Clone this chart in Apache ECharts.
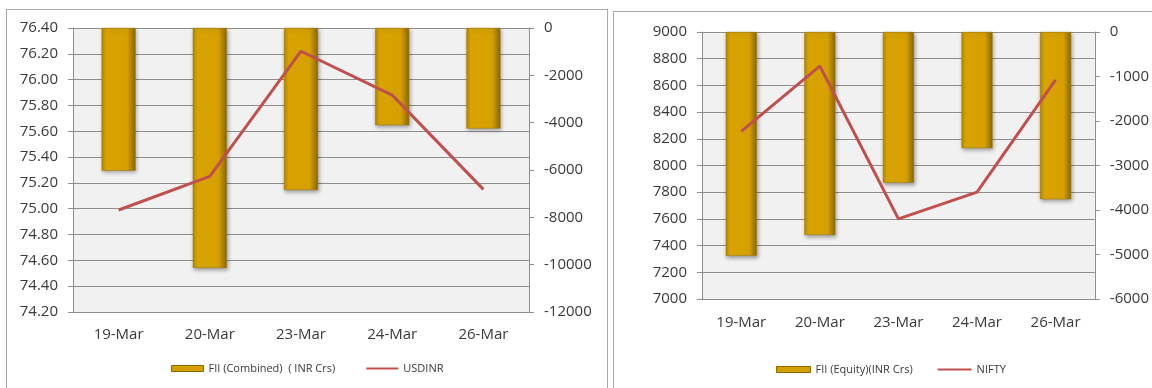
<!DOCTYPE html>
<html>
<head>
<meta charset="utf-8">
<script src="https://cdn.jsdelivr.net/npm/echarts@6/dist/echarts.min.js"></script>
<style>
html,body{margin:0;padding:0;background:#fff;}
#wrap{position:relative;width:1152px;height:388px;overflow:hidden;}
#chart{position:absolute;left:0;top:0;width:1152px;height:388px;}
.panel{position:absolute;border:1.5px solid #a8a8a8;pointer-events:none;}
</style>
</head>
<body>
<div id="wrap">
<div class="panel" style="left:6px;top:9px;width:600px;height:400px;"></div>
<div class="panel" style="left:613px;top:11px;width:560px;height:400px;"></div>
<div id="chart"></div>
</div>
<script>
const categories = ['19-Mar', '20-Mar', '23-Mar', '24-Mar', '26-Mar'];
const fiiCombined = [-6030, -10140, -6850, -4110, -4250];
const usdinr = [74.99, 75.25, 76.22, 75.88, 75.15];
const fiiEquity = [-5030, -4560, -3390, -2610, -3760];
const nifty = [8255, 8745, 7600, 7800, 8641];
const leftSeriesNames = ['FII (Combined)  ( INR Crs)', 'USDINR'];
const rightSeriesNames = ['FII (Equity)(INR Crs)', 'NIFTY'];
const usdAxis = {min: 74.2, max: 76.4, interval: 0.2};
const combAxis = {min: -12000, max: 0, interval: 2000};
const niftyAxis = {min: 7000, max: 9000, interval: 200};
const eqAxis = {min: -6000, max: 0, interval: 1000};

const FONT = '"Open Sans", sans-serif';
const TXT = '#3a3a3a';
const GRID = '#8e8e8e';
const barGrad = new echarts.graphic.LinearGradient(0, 0, 1, 0, [
  {offset: 0, color: '#b38600'},
  {offset: 0.12, color: '#d9a400'},
  {offset: 0.75, color: '#d6a100'},
  {offset: 1, color: '#8c6700'}
]);
const lineColor = '#c0504d';

function yAx(gridIndex, cfg, pos, fmt, split) {
  return {
    type: 'value', gridIndex: gridIndex, position: pos,
    min: cfg.min, max: cfg.max, interval: cfg.interval,
    axisLine: {show: true, lineStyle: {color: GRID, width: 1}},
    axisTick: {show: true, length: 5, lineStyle: {color: GRID}},
    axisLabel: {color: TXT, fontFamily: FONT, fontSize: 15, margin: 15, formatter: fmt},
    splitLine: {show: split, lineStyle: {color: GRID, width: 1}}
  };
}
function xAx(gridIndex, margin) {
  return {
    type: 'category', gridIndex: gridIndex, data: categories,
    axisLine: {show: true, lineStyle: {color: GRID, width: 1}},
    axisTick: {show: false},
    axisLabel: {color: TXT, fontFamily: FONT, fontSize: 15, margin: margin}
  };
}
function barSeries(name, data, xi, yi, width) {
  return {
    name: name, type: 'bar', xAxisIndex: xi, yAxisIndex: yi, data: data,
    barWidth: width,
    itemStyle: {color: barGrad, borderColor: '#a07800', borderWidth: 0.5,
      shadowColor: 'rgba(0,0,0,0.35)', shadowBlur: 4, shadowOffsetY: 2, shadowOffsetX: 1},
    z: 2
  };
}
function lineSeries(name, data, xi, yi) {
  return {
    name: name, type: 'line', xAxisIndex: xi, yAxisIndex: yi, data: data,
    symbol: 'none', lineStyle: {color: lineColor, width: 3}, itemStyle: {color: lineColor},
    z: 5
  };
}
const hiddenSym = {color: 'rgba(0,0,0,0)', borderWidth: 0, borderColor: 'rgba(0,0,0,0)'};
const barLegendStyle = {color: '#d4a000', borderColor: '#8c6700', borderWidth: 1};

const chart = echarts.init(document.getElementById('chart'), null, {renderer: 'canvas'});
chart.setOption({
  animation: false,
  grid: [
    {left: 73, top: 28, width: 456, height: 284, show: true, backgroundColor: '#f1f1f1', borderWidth: 0},
    {left: 702, top: 32, width: 396, height: 267, show: true, backgroundColor: '#f1f1f1', borderWidth: 0}
  ],
  xAxis: [xAx(0, 15), xAx(1, 16)],
  yAxis: [
    yAx(0, usdAxis, 'left', v => v.toFixed(2), true),
    yAx(0, combAxis, 'right', v => String(v), false),
    yAx(1, niftyAxis, 'left', v => String(v), true),
    yAx(1, eqAxis, 'right', v => String(v), false)
  ],
  legend: [
    {left: 166, top: 358, itemWidth: 32, itemHeight: 6, itemGap: 30,
     textStyle: {fontFamily: FONT, fontSize: 11, color: TXT},
     data: [{name: leftSeriesNames[0], icon: 'rect', itemStyle: barLegendStyle},
            {name: leftSeriesNames[1], itemStyle: hiddenSym}]},
    {left: 771, top: 359, itemWidth: 34, itemHeight: 6, itemGap: 24,
     textStyle: {fontFamily: FONT, fontSize: 11, color: TXT},
     data: [{name: rightSeriesNames[0], icon: 'rect', itemStyle: barLegendStyle},
            {name: rightSeriesNames[1], itemStyle: hiddenSym}]}
  ],
  series: [
    barSeries(leftSeriesNames[0], fiiCombined, 0, 1, 34),
    lineSeries(leftSeriesNames[1], usdinr, 0, 0),
    barSeries(rightSeriesNames[0], fiiEquity, 1, 3, 31),
    lineSeries(rightSeriesNames[1], nifty, 1, 2)
  ]
});
</script>
</body>
</html>
